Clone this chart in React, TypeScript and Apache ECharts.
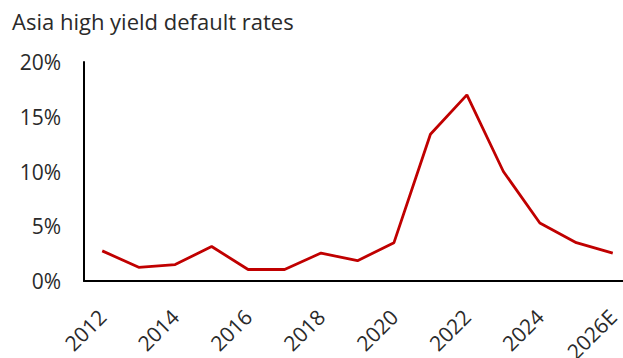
import React, { useEffect, useRef } from "react";
import * as echarts from "echarts";

const categories = ["2012","2013","2014","2015","2016","2017","2018","2019","2020","2021","2022","2023","2024","2025","2026E"];
const defaultRates = [2.75, 1.25, 1.5, 3.15, 1.05, 1.05, 2.55, 1.85, 3.5, 13.4, 17.0, 10.0, 5.3, 3.5, 2.55];
const titleText = "Asia high yield default rates";

export default function App() {
  const ref = useRef<HTMLDivElement>(null);
  useEffect(() => {
    document.body.style.margin = "0";
    const chart = echarts.init(ref.current!, null, { renderer: "svg" });
    const font = "'Open Sans', Roboto, 'Liberation Sans', Arial, sans-serif";
    chart.setOption({
      animation: false,
      title: {
        text: titleText,
        left: 12,
        top: 10,
        padding: 0,
        textStyle: { fontSize: 22, fontWeight: "normal", color: "#2a2a2a", fontFamily: font },
      },
      grid: {
        left: 84,
        top: 62,
        bottom: 77,
        right: -8,
        containLabel: false,
        outerBoundsMode: "none",
      },
      xAxis: {
        type: "category",
        data: categories,
        boundaryGap: true,
        axisLine: { show: true, lineStyle: { color: "#000", width: 2 } },
        axisTick: { show: false },
        axisLabel: {
          interval: 1,
          rotate: 45,
          margin: 32,
          fontSize: 21,
          fontWeight: "normal",
          color: "#2a2a2a",
          fontFamily: font,
        },
      },
      yAxis: {
        type: "value",
        min: 0,
        max: 20,
        interval: 5,
        axisLine: { show: true, lineStyle: { color: "#000", width: 2 } },
        axisTick: { show: false },
        splitLine: { show: false },
        axisLabel: {
          formatter: "{value}%",
          margin: 23,
          fontSize: 21,
          fontWeight: "normal",
          color: "#2a2a2a",
          fontFamily: font,
        },
      },
      series: [
        {
          type: "line",
          data: defaultRates,
          symbol: "none",
          lineStyle: { color: "#c00000", width: 2.8 },
        },
      ],
    });
    return () => chart.dispose();
  }, []);
  return <div ref={ref} style={{ width: 623, height: 358 }} />;
}
